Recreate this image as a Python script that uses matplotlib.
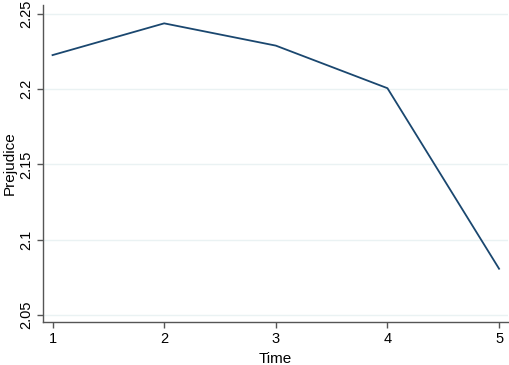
import matplotlib
matplotlib.use("Agg")
import matplotlib.pyplot as plt

plt.rcParams['font.family'] = ['Liberation Sans', 'DejaVu Sans']

time = [1, 2, 3, 4, 5]
prejudice = [2.2227, 2.2438, 2.2290, 2.2007, 2.0807]
yticks = [2.05, 2.1, 2.15, 2.2, 2.25]
ytick_labels = ["2.05", "2.1", "2.15", "2.2", "2.25"]

fig = plt.figure(figsize=(5.1, 3.65), dpi=100)
W, H = 510, 365
ax = fig.add_axes([43.5 / W, 1 - 322 / H, (508 - 43.5) / W, (322 - 5) / H])

ax.plot(time, prejudice, color="#1a476f", linewidth=1.3)

ax.set_xlim(0.919, 5.08)
ax.set_ylim(2.0453, 2.256)
ax.set_xticks(time)
ax.set_yticks(yticks)
ax.set_yticklabels(ytick_labels, rotation=90, va="center")
for y in yticks:
    ax.axhline(y, color="#eaf2f3", linewidth=1.0, zorder=0)

for s in ["top", "right"]:
    ax.spines[s].set_visible(False)
for s in ["left", "bottom"]:
    ax.spines[s].set_color("#555555")
    ax.spines[s].set_linewidth(1.0)

ax.tick_params(axis="both", colors="#555555", labelcolor="black", labelsize=10.5,
               length=4, width=1.0)
ax.set_xlabel("Time", fontsize=11)
ax.set_ylabel("Prejudice", fontsize=11, labelpad=2)

fig.savefig("out.png", dpi=100)
